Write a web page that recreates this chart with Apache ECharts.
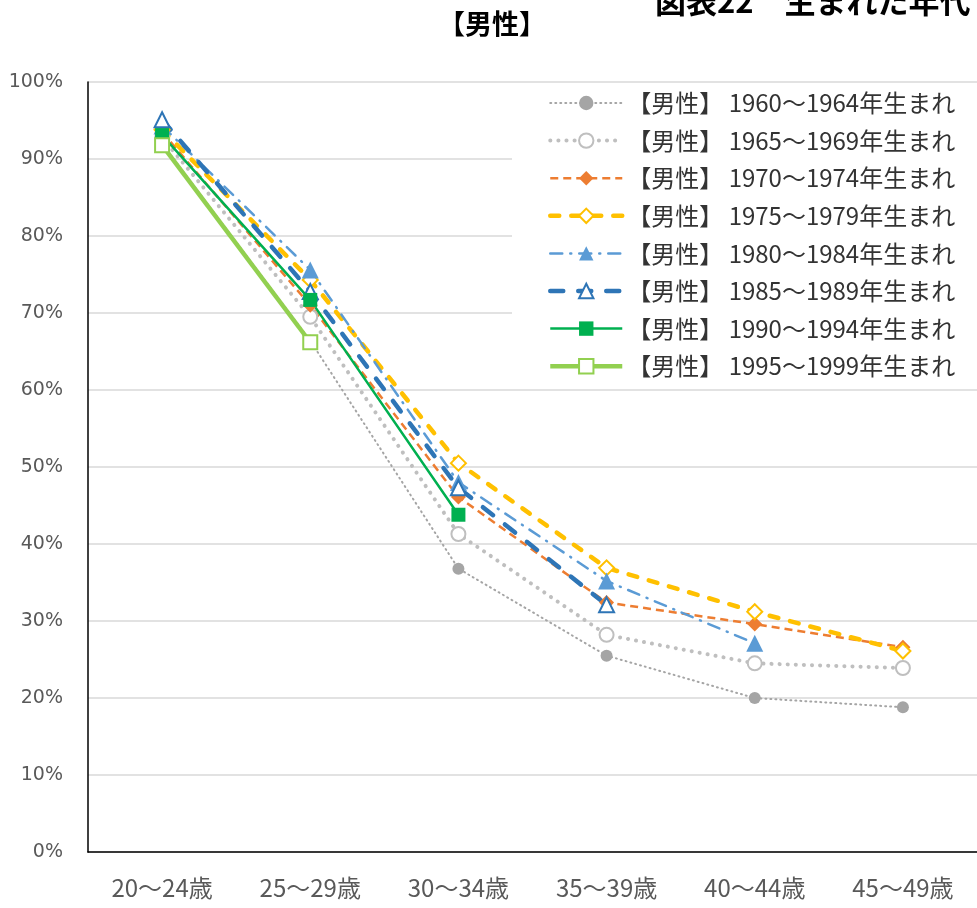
<!DOCTYPE html>
<html>
<head>
<meta charset="utf-8">
<script src="https://cdn.jsdelivr.net/npm/echarts@6/dist/echarts.min.js"></script>
<style>
html,body{margin:0;padding:0;background:#fff;}
#chart{width:977px;height:908px;}
</style>
</head>
<body>
<div id="chart"></div>
<script>
var categories = ['20～24歳', '25～29歳', '30～34歳', '35～39歳', '40～44歳', '45～49歳'];
var seriesNames = [
  '【男性】 1960～1964年生まれ',
  '【男性】 1965～1969年生まれ',
  '【男性】 1970～1974年生まれ',
  '【男性】 1975～1979年生まれ',
  '【男性】 1980～1984年生まれ',
  '【男性】 1985～1989年生まれ',
  '【男性】 1990～1994年生まれ',
  '【男性】 1995～1999年生まれ'
];
var s1960 = [92.0, 66.4, 36.8, 25.5, 20.0, 18.8];
var s1965 = [92.8, 69.5, 41.3, 28.2, 24.5, 23.9];
var s1970 = [93.5, 71.0, 46.1, 32.4, 29.6, 26.6];
var s1975 = [93.8, 74.3, 50.5, 36.9, 31.2, 26.1];
var s1980 = [94.3, 75.6, 48.0, 35.2, 27.1];
var s1985 = [95.1, 72.8, 47.3, 32.1];
var s1990 = [93.1, 71.7, 43.8];
var s1995 = [91.8, 66.2];
var yTicks = [0, 10, 20, 30, 40, 50, 60, 70, 80, 90, 100];

var FONT = '"Noto Sans CJK JP", "Noto Sans", sans-serif';

var styles = [
  {data: s1960, color: '#a5a5a5', width: 2, dash: [1, 4], cap: 'round', symbol: 'circle', size: 12},
  {data: s1965, color: '#bfbfbf', width: 4, dash: [0.1, 8], cap: 'round', symbol: 'emptyCircle', size: 14},
  {data: s1970, color: '#ed7d31', width: 2.5, dash: [8, 5], cap: 'butt', symbol: 'diamond', size: 15},
  {data: s1975, color: '#ffc000', width: 4.5, dash: [9, 12], cap: 'round', symbol: 'emptyDiamond', size: 15},
  {data: s1980, color: '#5b9bd5', width: 2.5, dash: [12, 8, 1, 8], cap: 'round', symbol: 'triangle', size: 17},
  {data: s1985, color: '#2e75b6', width: 4.5, dash: [13, 15], cap: 'round', symbol: 'emptyTriangle', size: 15},
  {data: s1990, color: '#00b050', width: 2.5, dash: 'solid', cap: 'butt', symbol: 'rect', size: 14},
  {data: s1995, color: '#92d050', width: 4.5, dash: 'solid', cap: 'butt', symbol: 'emptyRect', size: 14}
];

var series = styles.map(function (s, i) {
  return {
    name: seriesNames[i],
    type: 'line',
    data: s.data,
    symbol: s.symbol,
    symbolSize: s.size,
    showAllSymbol: true,
    color: s.color,
    lineStyle: {color: s.color, width: s.width, type: s.dash, cap: s.cap},
    itemStyle: {color: s.color, borderColor: s.color, borderWidth: s.symbol.indexOf('empty') === 0 ? 2 : 0},
    emphasis: {disabled: true},
    animation: false
  };
});

var chart = echarts.init(document.getElementById('chart'), null, {renderer: 'canvas'});
chart.setOption({
  backgroundColor: '#fff',
  animation: false,
  textStyle: {fontFamily: FONT},
  graphic: [
    {type: 'text', left: 655, top: -14, style: {text: '図表22　生まれた年代', font: 'bold 31px ' + FONT, fill: '#000'}},
    {type: 'text', x: 492, y: 24, style: {text: '【男性】', font: 'bold 27px ' + FONT, fill: '#000', align: 'center', verticalAlign: 'middle'}}
  ],
  grid: {left: 88, right: -2, top: 82, bottom: 56, containLabel: false},
  legend: {
    orient: 'vertical',
    left: 512,
    top: 83,
    padding: [8, 40, 8, 36],
    backgroundColor: '#fff',
    itemWidth: 72,
    itemHeight: 18,
    itemGap: 13.6,
    lineStyle: {width: 'inherit'},
    textStyle: {fontFamily: FONT, fontSize: 24, color: '#333'},
    data: seriesNames,
    z: 10
  },
  xAxis: {
    type: 'category',
    data: categories,
    boundaryGap: true,
    axisLine: {show: true, lineStyle: {color: '#000', width: 1.5}},
    axisTick: {show: false},
    axisLabel: {fontFamily: FONT, fontSize: 24, color: '#595959', margin: 24},
    splitLine: {show: false}
  },
  yAxis: {
    type: 'value',
    min: yTicks[0],
    max: yTicks[yTicks.length - 1],
    interval: 10,
    axisLine: {show: true, lineStyle: {color: '#000', width: 1.5}},
    axisTick: {show: false},
    axisLabel: {fontFamily: '"DejaVu Sans", sans-serif', fontSize: 19, color: '#595959', margin: 25, formatter: '{value}%'},
    splitLine: {show: true, lineStyle: {color: '#d9d9d9', width: 1.5}}
  },
  series: series
});
</script>
</body>
</html>
